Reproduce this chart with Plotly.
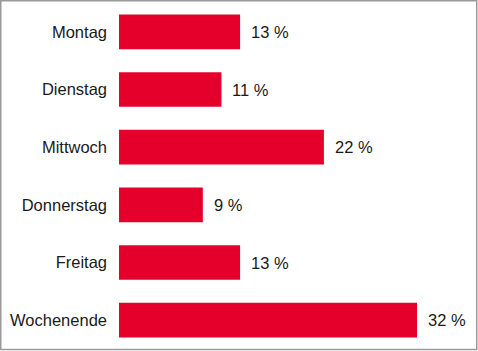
import plotly.graph_objects as go

categories = ["Montag", "Dienstag", "Mittwoch", "Donnerstag", "Freitag", "Wochenende"]
values = [13, 11, 22, 9, 13, 32]
value_labels = ["13 %", "11 %", "22 %", "9 %", "13 %", "32 %"]

FONT = "Liberation Sans, Arial, Helvetica, sans-serif"
FSIZE = 16.5
RED = "#e4002b"
TXT = "#1a1a1a"

fig = go.Figure(go.Bar(
    x=values, y=categories, orientation="h",
    marker=dict(color=RED, line=dict(width=0)),
    hoverinfo="skip",
))

for c, v, t in zip(categories, values, value_labels):
    fig.add_annotation(x=v, y=c, text=t, xanchor="left", yanchor="middle",
                       xshift=9, showarrow=False,
                       font=dict(family=FONT, size=FSIZE, color=TXT))

W, H = 478, 351
ml, mr, mt, mb = 119, 33, 3, 2
pw, ph = W - ml - mr, H - mt - mb

def px(x):
    return (x - ml) / pw

def py(y):
    return (H - mb - y) / ph

fig.add_shape(type="rect", xref="paper", yref="paper",
              x0=px(0.75), x1=px(476.75), y0=py(349.5), y1=py(0.75),
              line=dict(color="#9a9a9a", width=1.5), fillcolor="rgba(0,0,0,0)",
              layer="above")

fig.update_layout(
    width=W, height=H,
    margin=dict(l=ml, r=mr, t=mt, b=mb, autoexpand=False),
    paper_bgcolor="white", plot_bgcolor="white",
    bargap=0.4,
    showlegend=False,
    font=dict(family=FONT, size=FSIZE, color=TXT),
    xaxis=dict(range=[0, 35], visible=False, fixedrange=True, automargin=False),
    yaxis=dict(range=[5.5, -0.5], showgrid=False, zeroline=False, showline=False,
               ticks="", ticklabelstandoff=11, fixedrange=True, automargin=False,
               tickfont=dict(family=FONT, size=FSIZE, color=TXT)),
)

fig.write_html("out.html", config={"displayModeBar": False})
